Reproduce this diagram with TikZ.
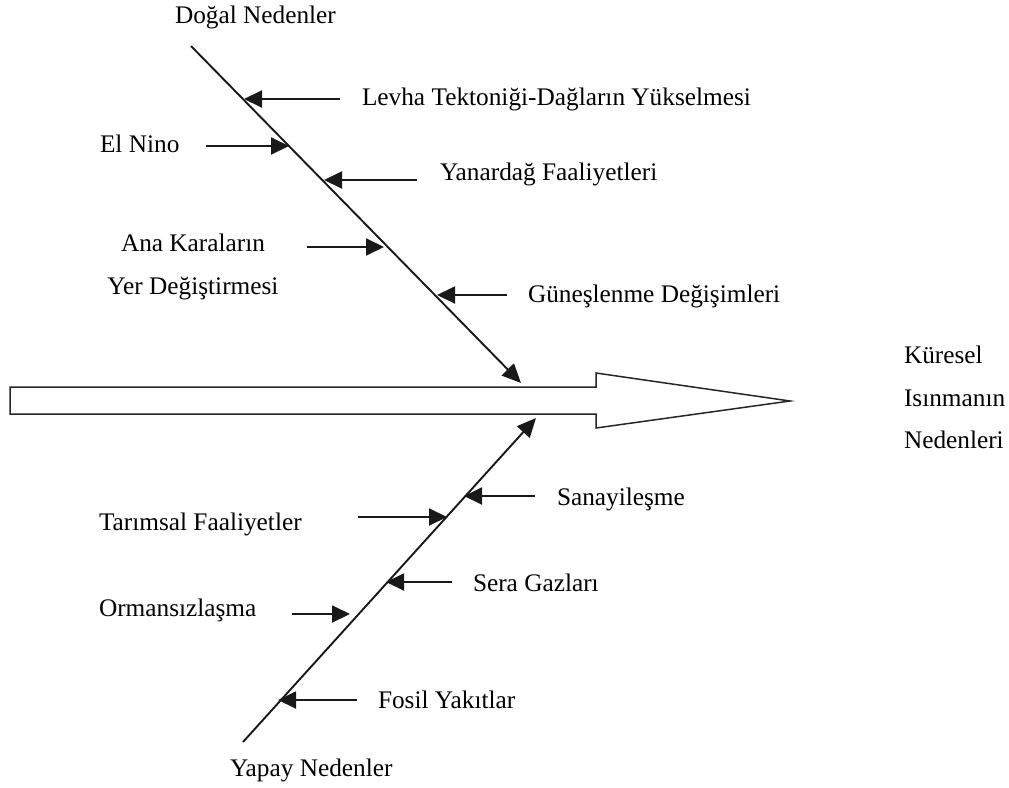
\documentclass[tikz,border=0pt]{standalone}
\usepackage{fontspec}
\setmainfont{Liberation Serif}
\usetikzlibrary{arrows.meta}
\begin{document}
\begin{tikzpicture}[x=1pt,y=-1pt,
  lbl/.style={inner sep=0pt,outer sep=0pt,font=\fontsize{25.3}{30}\selectfont,text height=16.7pt,text depth=0pt},
  mlbl/.style={inner sep=0pt,outer sep=0pt,font=\fontsize{25.3}{42.5}\selectfont},
  spine/.style={line width=1.9pt,draw=black!90,-{Triangle[length=19pt,width=17pt]}},
  branch/.style={line width=1.9pt,draw=black!90,-{Triangle[length=18pt,width=17pt]}},
  mainarrow/.style={line width=1.5pt,draw=black!85,fill=white,line join=miter}
]
\useasboundingbox (0,0) rectangle (1009,787);

% main arrow
\draw[mainarrow] (10,387) -- (596,387) -- (596,373) -- (790,401) -- (596,428) -- (596,414) -- (10,414) -- cycle;

% spine coordinates
\coordinate (uS) at (191,46);
\coordinate (uT) at (521,383);
\coordinate (lS) at (243,742);
\coordinate (lT) at (536,418);
\draw[spine] (uS) -- (uT);
\draw[spine] (lS) -- (lT);

% labels
\node[lbl,anchor=west] (dogal) at (175,15) {Doğal Nedenler};
\node[lbl,anchor=west] (levha) at (362,97) {Levha Tektoniği-Dağların Yükselmesi};
\node[lbl,anchor=west] (elnino) at (100,144) {El Nino};
\node[lbl,anchor=west] (yanar) at (440,172) {Yanardağ Faaliyetleri};
\node[mlbl,anchor=north,align=center] (ana) at (193,234) {Ana Karaların\\Yer Değiştirmesi};
\node[lbl,anchor=west] (gunes) at (528,294) {Güneşlenme Değişimleri};
\node[mlbl,anchor=north west,align=left] (kuresel) at (904,346) {Küresel\\Isınmanın\\Nedenleri};
\node[lbl,anchor=west] (sanayi) at (557,497) {Sanayileşme};
\node[lbl,anchor=west] (tarim) at (99,522) {Tarımsal Faaliyetler};
\node[lbl,anchor=west] (sera) at (473,583) {Sera Gazları};
\node[lbl,anchor=west] (orman) at (99,608) {Ormansızlaşma};
\node[lbl,anchor=west] (fosil) at (378,700) {Fosil Yakıtlar};
\node[lbl,anchor=west] (yapay) at (230,768) {Yapay Nedenler};

% branch arrow ends
\coordinate (levhaA) at (340,99);   \coordinate (levhaB) at (244,99);
\coordinate (elninoA) at (206,146); \coordinate (elninoB) at (289,146);
\coordinate (yanarA) at (417,180);  \coordinate (yanarB) at (324,180);
\coordinate (anaA) at (307,247);    \coordinate (anaB) at (384,247);
\coordinate (gunesA) at (507,295);  \coordinate (gunesB) at (437,295);
\coordinate (sanayiA) at (535,496); \coordinate (sanayiB) at (464,496);
\coordinate (tarimA) at (358,517);  \coordinate (tarimB) at (447,517);
\coordinate (seraA) at (452,582);   \coordinate (seraB) at (386,582);
\coordinate (ormanA) at (292,614);  \coordinate (ormanB) at (350,614);
\coordinate (fosilA) at (357,700);  \coordinate (fosilB) at (278,700);

\foreach \n in {levha,elnino,yanar,ana,gunes,sanayi,tarim,sera,orman,fosil}
  \draw[branch] (\n A) -- (\n B);
\end{tikzpicture}
\end{document}
